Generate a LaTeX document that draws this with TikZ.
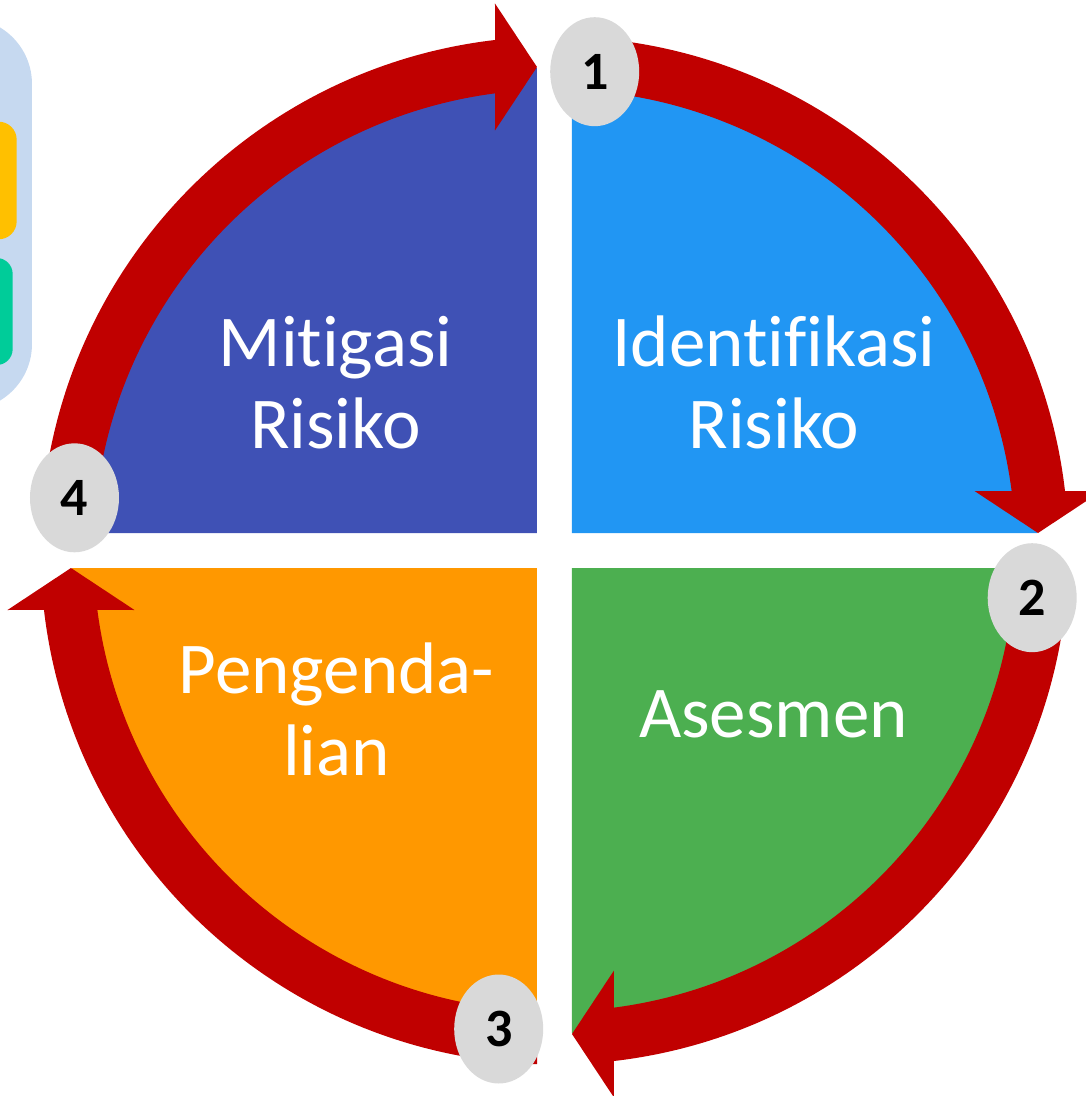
\documentclass[tikz,border=0pt]{standalone}
\usepackage{fontspec}
\setmainfont[Ligatures=NoCommon]{Carlito}
\usetikzlibrary{shapes.geometric}
\definecolor{arrowred}{HTML}{C00000}
\definecolor{quadindigo}{HTML}{3F51B5}
\definecolor{quadblue}{HTML}{2196F3}
\definecolor{quadgreen}{HTML}{4CAF50}
\definecolor{quadorange}{HTML}{FF9800}
\definecolor{numgray}{HTML}{D9D9D9}
\definecolor{panelblue}{HTML}{C6D9F0}
\definecolor{tabyellow}{HTML}{FFC000}
\definecolor{tabgreen}{HTML}{00CC99}
\begin{document}
\begin{tikzpicture}[x=1pt,y=1pt,
  quadlabel/.style={text=white, align=center, inner sep=0pt, anchor=base,
    font=\fontsize{73}{82}\selectfont},
  stepnum/.style={ellipse, fill=numgray, minimum width=89pt, minimum height=109pt,
    inner sep=0pt, font=\fontsize{54}{54}\selectfont\bfseries},
  cyclearrow/.pic={
    \fill[arrowred] (177.82:461) arc[start angle=177.82, end angle=97.41, radius=461]
      -- (-59.5,420) -- (-17.5,483.5) -- (-59.5,547)
      -- (96.64:514) arc[start angle=96.64, end angle=178.05, radius=514] -- cycle;
  }
]
\clip (-554.5,-545.5) rectangle (531.5,550.5);

% side panel, partly outside the page
\fill[panelblue, rounded corners=66pt] (-640,140.5) rectangle (-522.5,532.5);
\fill[tabyellow, rounded corners=18pt] (-600,311.2) rectangle (-537.8,428.8);
\fill[tabgreen, rounded corners=16pt] (-600,185.5) rectangle (-541.8,292.5);

% four quarter sectors
\fill[quadindigo] (-17.5,17.5) -- (-482.5,17.5) arc[start angle=180, end angle=90, radius=465] -- cycle;
\fill[quadblue] (17.5,17.5) -- (17.5,482.5) arc[start angle=90, end angle=0, radius=465] -- cycle;
\fill[quadgreen] (17.5,-17.5) -- (482.5,-17.5) arc[start angle=0, end angle=-90, radius=465] -- cycle;
\fill[quadorange] (-17.5,-17.5) -- (-17.5,-482.5) arc[start angle=270, end angle=180, radius=465] -- cycle;

% labels (base anchor sits on the last line)
\node[quadlabel] (mitigasi) at (-219,102.2) {Mitigasi\\Risiko};
\node[quadlabel] (identifikasi) at (219.5,102.2) {Identifikasi\\Risiko};
\node[quadlabel] (asesmen) at (219,-186.5) {Asesmen};
\node[quadlabel] (pengendalian) at (-218,-225.2) {Pengenda-\\lian};

% circular arrows
\pic {cyclearrow};
\pic[rotate=-90] {cyclearrow};
\pic[rotate=-180] {cyclearrow};
\pic[rotate=-270] {cyclearrow};

% step numbers
\node[stepnum] (n1) at (40.2,478.8) {1};
\node[stepnum] (n2) at (477.7,-47.2) {2};
\node[stepnum] (n3) at (-55.8,-478.5) {3};
\node[stepnum] (n4) at (-480,52.7) {4};
\end{tikzpicture}
\end{document}
